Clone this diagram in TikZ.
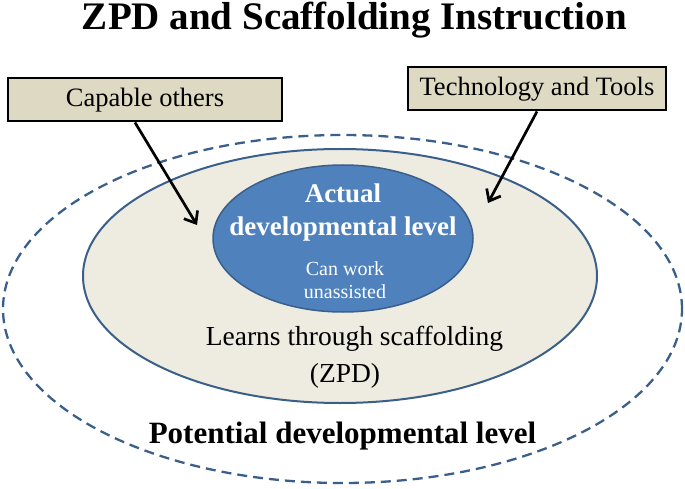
\documentclass[tikz,border=0pt]{standalone}
\usepackage{fontspec}
\setmainfont{Liberation Serif}
\usetikzlibrary{shapes.geometric,arrows.meta}
\definecolor{edgeblue}{HTML}{3A5F8B}
\definecolor{fillblue}{HTML}{4F81BD}
\definecolor{beige}{HTML}{EEECE1}
\definecolor{tan}{HTML}{DDD9C3}
\tikzset{
  ellbase/.style={ellipse, inner sep=0pt, outer sep=0pt},
  labelbox/.style={draw=black, line width=2pt, fill=tan, minimum height=43pt, inner sep=0pt, font=\fontsize{26.5}{28}\selectfont},
  arr/.style={draw=black, line width=2.7pt, -{Straight Barb[length=10pt,width=16pt,line width=2.7pt]}},
  txt/.style={anchor=base, inner sep=0pt}
}
\begin{document}
\begin{tikzpicture}[x=1pt,y=-1pt]
\useasboundingbox (0,0) rectangle (685,489);
% outer dashed ellipse
\node[ellbase, draw=edgeblue, line width=2.3pt, dash pattern=on 10pt off 6pt, minimum width=679pt, minimum height=348pt] (outer) at (342.5,309) {};
% middle ellipse
\node[ellbase, draw=edgeblue, line width=2pt, fill=beige, minimum width=514pt, minimum height=254pt] (mid) at (340,276) {};
% inner ellipse
\node[ellbase, draw=edgeblue, line width=1.5pt, fill=fillblue, minimum width=260pt, minimum height=147pt] (inner) at (343,238.5) {};
% title
\node[txt, font=\fontsize{39}{40}\selectfont\bfseries] (title) at (354.5,29.5) {ZPD and Scaffolding Instruction};
% inner texts
\node[txt, text=white, font=\fontsize{27}{28}\selectfont\bfseries] (act1) at (343,203) {Actual};
\node[txt, text=white, font=\fontsize{27}{28}\selectfont\bfseries] (act2) at (343,235) {developmental level};
\node[txt, text=white, font=\fontsize{20}{22}\selectfont] (cw1) at (345,275) {Can work};
\node[txt, text=white, font=\fontsize{20}{22}\selectfont] (cw2) at (345,298) {unassisted};
% middle texts
\node[txt, font=\fontsize{27.5}{28}\selectfont] (learn) at (354.5,345) {Learns through scaffolding};
\node[txt, font=\fontsize{27.5}{28}\selectfont] (zpd) at (345,382) {(ZPD)};
% outer text
\node[txt, font=\fontsize{31}{32}\selectfont\bfseries] (pot) at (342.5,443) {Potential developmental level};
% boxes
\node[labelbox, minimum width=274pt] (capable) at (145,100) {Capable others};
\node[labelbox, minimum width=258pt] (tech) at (537,89) {Technology and Tools};
% arrows
\coordinate (c1) at (197,225);
\coordinate (c2) at (488,203);
\draw[arr] ([xshift=-10pt]capable.south) -- (c1);
\draw[arr] (tech.south) -- (c2);
\end{tikzpicture}
\end{document}
